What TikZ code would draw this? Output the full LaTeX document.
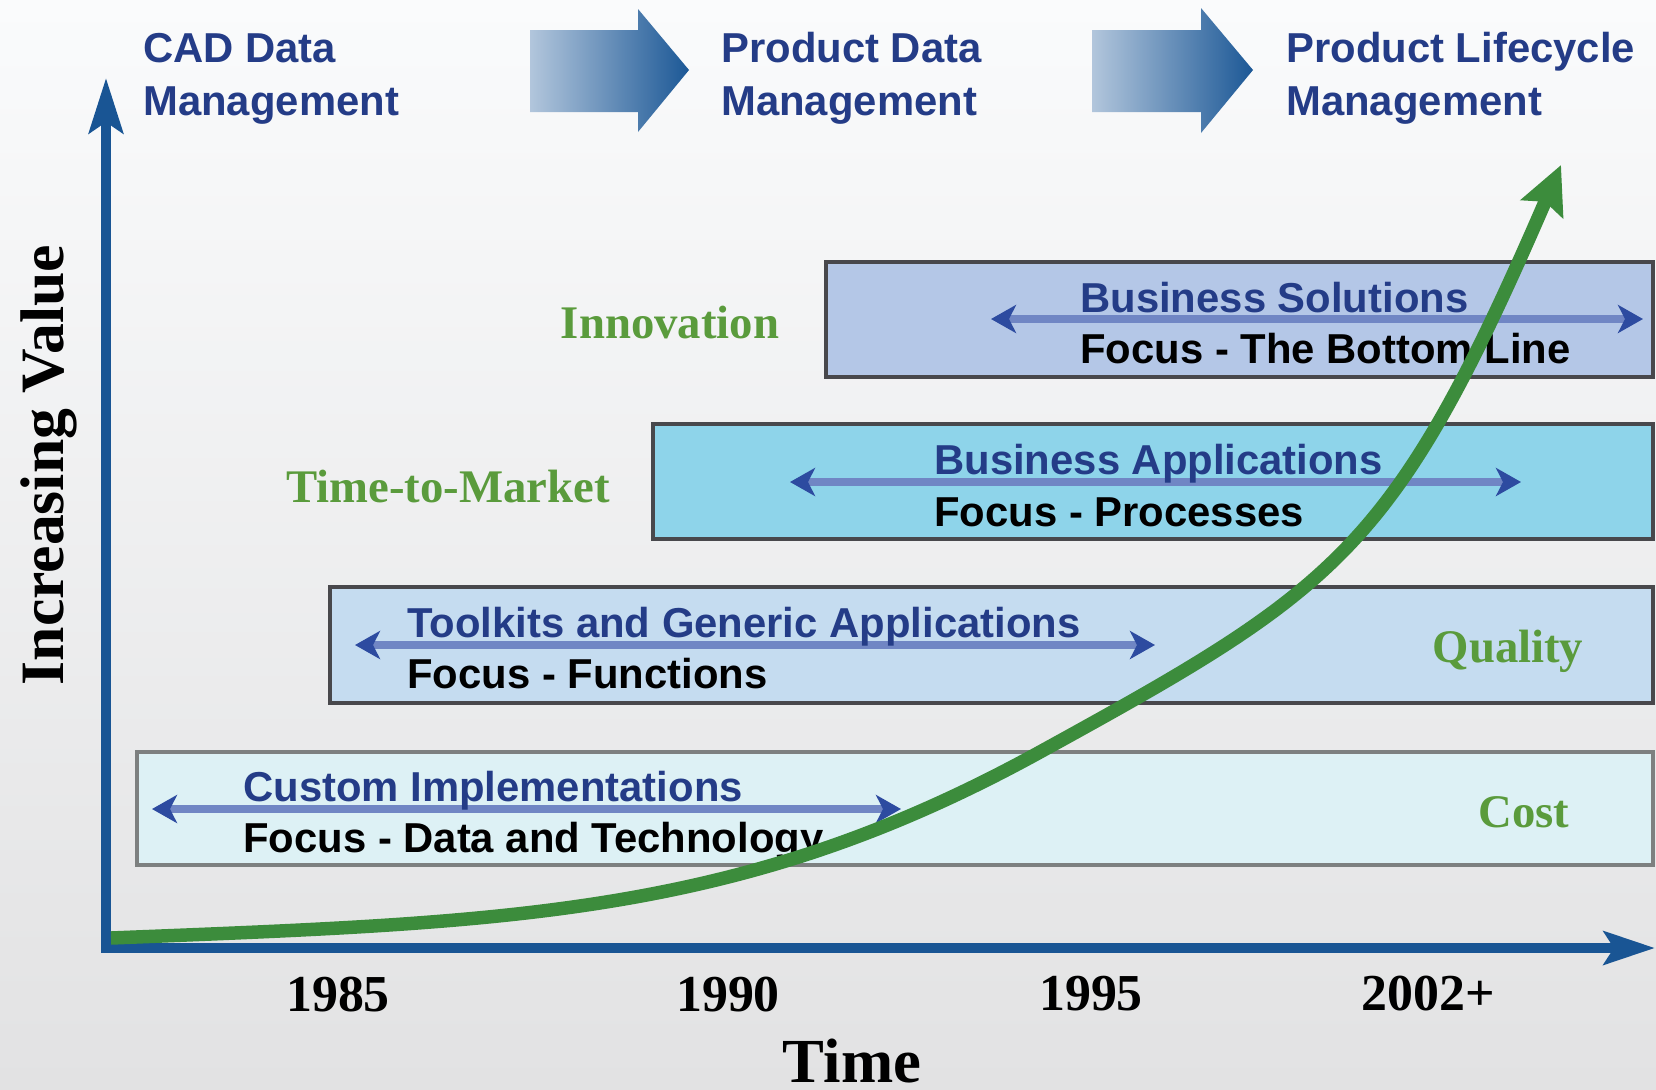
\documentclass[tikz,border=0pt]{standalone}
\usepackage{fontspec}
\setmainfont{Liberation Serif}
\setsansfont{Liberation Sans}
\usepackage{tikz}
\usetikzlibrary{arrows.meta}

\definecolor{bgtop}{RGB}{250,251,252}
\definecolor{bgbottom}{RGB}{226,226,227}
\definecolor{shaftlight}{RGB}{178,198,220}
\definecolor{shaftdark}{RGB}{28,88,150}
\definecolor{axisblue}{RGB}{25,85,148}
\definecolor{navy}{RGB}{36,60,135}
\definecolor{drivergreen}{RGB}{90,155,60}
\definecolor{curvegreen}{RGB}{60,140,60}
\definecolor{solfill}{RGB}{180,199,231}
\definecolor{appfill}{RGB}{142,212,234}
\definecolor{kitfill}{RGB}{197,220,240}
\definecolor{custfill}{RGB}{221,241,245}
\definecolor{boxedge}{RGB}{72,72,76}
\definecolor{custedge}{RGB}{125,128,128}
\definecolor{spanline}{RGB}{112,134,196}
\definecolor{spantip}{RGB}{45,75,160}

\begin{document}
\begin{tikzpicture}[x=0.02cm,y=-0.02cm,
	stage/.style={anchor=base west,inner sep=0pt,align=left,text=navy,
		font=\sffamily\bfseries\fontsize{23.8}{30}\selectfont},
	layer/.style={draw=boxedge,line width=0.08cm},
	layertitle/.style={anchor=base west,inner sep=0pt,text=navy,
		font=\sffamily\bfseries\fontsize{23.8}{30}\selectfont},
	layerfocus/.style={anchor=base west,inner sep=0pt,text=black,
		font=\sffamily\bfseries\fontsize{23.8}{30}\selectfont},
	span/.style={draw=spanline,line width=0.16cm,
		{Stealth[length=0.5cm,width=0.56cm,inset=0.14cm,color=spantip]}-{Stealth[length=0.5cm,width=0.56cm,inset=0.14cm,color=spantip]}},
	driver/.style={anchor=base,inner sep=0pt,text=drivergreen,
		font=\rmfamily\bfseries\fontsize{26.6}{30}\selectfont},
	year/.style={anchor=base,inner sep=0pt,
		font=\rmfamily\bfseries\fontsize{29.5}{32}\selectfont},
	axis/.style={draw=axisblue,line width=0.2cm,line join=miter,
		{Stealth[length=1.1cm,width=0.68cm,inset=0.22cm]}-{Stealth[length=1.02cm,width=0.66cm,inset=0.2cm]}},
	growth/.style={draw=curvegreen,line width=0.27cm,
		-{Stealth[length=0.95cm,width=0.9cm,inset=0.15cm]}}]

	\shade[top color=bgtop,bottom color=bgbottom] (0,0) rectangle (1656,1089);
	\useasboundingbox (0,0) rectangle (1656,1089);

	% stages across the top
	\shade[left color=shaftlight,right color=shaftdark] (530,30) -- (638,30) -- (638,9) -- (689,70) -- (638,132) -- (638,112) -- (530,112) -- cycle;
	\shade[left color=shaftlight,right color=shaftdark] (1092,30) -- (1201,30) -- (1201,8) -- (1253,70) -- (1201,133) -- (1201,112) -- (1092,112) -- cycle;

	% base of a two-line node is on its last line
	\node[stage] (cad) at (143,115) {CAD Data\\Management};
	\node[stage] (pdm) at (721,115) {Product Data\\Management};
	\node[stage] (plm) at (1286,115) {Product Lifecycle\\Management};

	% layers
	\draw[layer,fill=solfill] (826,262) rectangle (1653,377);
	\draw[layer,fill=appfill] (653,424) rectangle (1653,539);
	\draw[layer,fill=kitfill] (330,587) rectangle (1653,703);
	\draw[layer,draw=custedge,fill=custfill] (137,752) rectangle (1653,865);

	\coordinate (sol-l) at (991,319);
	\coordinate (sol-r) at (1643,319);
	\coordinate (app-l) at (790,482);
	\coordinate (app-r) at (1521,482);
	\coordinate (kit-l) at (355,645);
	\coordinate (kit-r) at (1155,645);
	\coordinate (cust-l) at (152,809);
	\coordinate (cust-r) at (901,809);
	\draw[span] (sol-l) -- (sol-r);
	\draw[span] (app-l) -- (app-r);
	\draw[span] (kit-l) -- (kit-r);
	\draw[span] (cust-l) -- (cust-r);

	\node[layertitle] (sol) at (1080,312) {Business Solutions};
	\node[layerfocus] (solfocus) at (1080,363) {Focus - The Bottom Line};
	\node[layertitle] (app) at (934,474) {Business Applications};
	\node[layerfocus] (appfocus) at (934,526) {Focus - Processes};
	\node[layertitle] (kit) at (407,637) {Toolkits and Generic Applications};
	\node[layerfocus] (kitfocus) at (407,688) {Focus - Functions};
	\node[layertitle] (cust) at (243,801) {Custom Implementations};
	\node[layerfocus] (custfocus) at (243,852) {Focus - Data and Technology};

	\node[driver] (innov) at (670,338) {Innovation};
	\node[driver] (ttm) at (448,502) {Time-to-Market};
	\node[driver] (qual) at (1508,662) {Quality};
	\node[driver] (cost) at (1524,827) {Cost};

	% axes
	\coordinate (origin) at (106,948);
	\coordinate (ytip) at (106,78);
	\coordinate (xtip) at (1655,948);
	\draw[axis] (ytip) -- (origin) -- (xtip);

	\node[year] (y85) at (338,1011) {1985};
	\node[year] (y90) at (728,1011) {1990};
	\node[year] (y95) at (1091,1010) {1995};
	\node[year] (y02) at (1428,1010) {2002+};
	\node[anchor=base,inner sep=0pt,font=\rmfamily\bfseries\fontsize{35.7}{40}\selectfont] (time) at (852,1082) {Time};
	\node[anchor=base,inner sep=0pt,rotate=90,font=\rmfamily\bfseries\fontsize{35.1}{40}\selectfont] (value) at (63,465) {Increasing Value};

	% value curve
	\coordinate (start) at (111,938);
	\coordinate (bend) at (1040,752);
	\coordinate (peak) at (1561,165);
	\draw[growth] (start) .. controls (511,922) and (740,917) .. (bend)
		.. controls (1340,587) and (1394,551) .. (peak);
\end{tikzpicture}
\end{document}
